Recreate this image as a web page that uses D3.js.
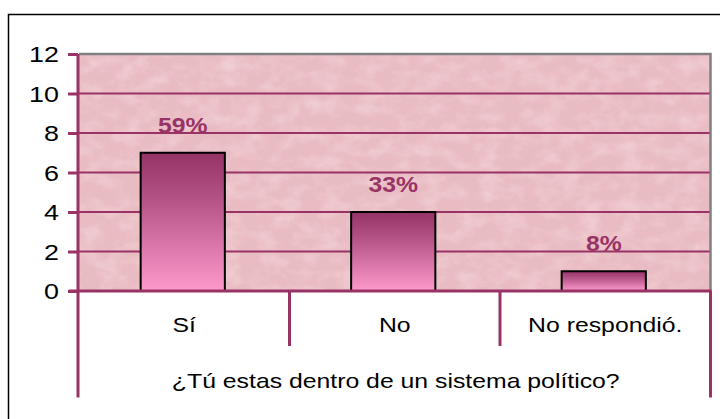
<!DOCTYPE html>
<html>
<head>
<meta charset="utf-8">
<script src="https://cdn.jsdelivr.net/npm/d3@7"></script>
<style>
  body { margin: 0; background: #fff; }
  svg { display: block; font-family: Arial, "Liberation Sans", sans-serif; }
</style>
</head>
<body>
<div id="chart"></div>
<script>
// chart data
const categories = ["Sí", "No", "No respondió."];
const counts = [7, 4, 1];
const pctLabels = ["59%", "33%", "8%"];
const yTicks = [0, 2, 4, 6, 8, 10, 12];
const axisTitle = "¿Tú estas dentro de un sistema político?";

const width = 720, height = 419;
const margin = {top: 54, right: 9.5, bottom: 128, left: 79};
const purple = "#993366";
const stretch = 1.24; // the original text is a bit wider than plain Arial

const svg = d3.select("#chart")
  .append("svg")
  .attr("width", width)
  .attr("height", height);

const defs = svg.append("defs");

// marbled pink texture of the plot area
const marble = defs.append("filter")
  .attr("id", "marble")
  .attr("x", 0).attr("y", 0).attr("width", "100%").attr("height", "100%");
marble.append("feTurbulence")
  .attr("type", "fractalNoise")
  .attr("baseFrequency", "0.05 0.07")
  .attr("numOctaves", 4)
  .attr("seed", 11);
marble.append("feColorMatrix")
  .attr("type", "matrix")
  .attr("values", "0 0 0 0 1  0 0 0 0 0.92  0 0 0 0 0.93  1.6 0 0 0 -0.62");

const speck = defs.append("filter")
  .attr("id", "speck")
  .attr("x", 0).attr("y", 0).attr("width", "100%").attr("height", "100%");
speck.append("feTurbulence")
  .attr("type", "fractalNoise")
  .attr("baseFrequency", "0.12")
  .attr("numOctaves", 2)
  .attr("seed", 4);
speck.append("feColorMatrix")
  .attr("type", "matrix")
  .attr("values", "0 0 0 0 0.8  0 0 0 0 0.5  0 0 0 0 0.55  0 1.6 0 0 -0.7");

const grad = defs.append("linearGradient")
  .attr("id", "barGrad")
  .attr("x1", 0).attr("y1", 0).attr("x2", 0).attr("y2", 1);
grad.append("stop").attr("offset", "0%").attr("stop-color", "#963366");
grad.append("stop").attr("offset", "30%").attr("stop-color", "#b04f82");
grad.append("stop").attr("offset", "100%").attr("stop-color", "#ff99cc");

// outer frame (runs off the right and bottom edges)
svg.append("rect")
  .attr("x", 8.5).attr("y", 14.5)
  .attr("width", width).attr("height", height)
  .attr("fill", "#fff")
  .attr("stroke", "#000")
  .attr("stroke-width", 1.5);

const y = d3.scaleLinear()
  .domain([0, 12])
  .range([height - margin.bottom, margin.top]);

const x = d3.scaleBand()
  .domain(categories)
  .range([margin.left, width - margin.right])
  .padding(0);

const plotTop = y(12), plotBottom = y(0);
const plotLeft = margin.left, plotRight = width - margin.right;

// plot background
svg.append("rect")
  .attr("x", plotLeft).attr("y", plotTop)
  .attr("width", plotRight - plotLeft).attr("height", plotBottom - plotTop)
  .attr("fill", "#e9bbc2");
svg.append("rect")
  .attr("x", plotLeft).attr("y", plotTop)
  .attr("width", plotRight - plotLeft).attr("height", plotBottom - plotTop)
  .attr("filter", "url(#marble)")
  .attr("opacity", 0.4);
svg.append("rect")
  .attr("x", plotLeft).attr("y", plotTop)
  .attr("width", plotRight - plotLeft).attr("height", plotBottom - plotTop)
  .attr("filter", "url(#speck)")
  .attr("opacity", 0.15);

// gridlines
svg.append("g")
  .selectAll("line")
  .data(yTicks.filter(t => t > 0 && t < 12))
  .enter()
  .append("line")
    .attr("x1", plotLeft).attr("x2", plotRight)
    .attr("y1", d => y(d)).attr("y2", d => y(d))
    .attr("stroke", purple)
    .attr("stroke-width", 2);

// grey border on top and right of the plot
svg.append("path")
  .attr("d", `M${plotLeft},${plotTop}H${plotRight}V${plotBottom}`)
  .attr("fill", "none")
  .attr("stroke", "#808080")
  .attr("stroke-width", 2.5);

// bars
const bw = x.bandwidth() * 0.4;
svg.append("g")
  .selectAll("rect")
  .data(counts)
  .enter()
  .append("rect")
    .attr("x", (d, i) => x(categories[i]) + x.bandwidth() / 2 - bw / 2 - 1.5)
    .attr("y", d => y(d))
    .attr("width", bw)
    .attr("height", d => y(0) - y(d))
    .attr("fill", "url(#barGrad)")
    .attr("stroke", "#000")
    .attr("stroke-width", 2);

// percentage labels
svg.append("g")
  .selectAll("text")
  .data(counts)
  .enter()
  .append("text")
    .attr("transform", (d, i) =>
      `translate(${x(categories[i]) + x.bandwidth() / 2 - 1.5},${y(d) - 20}) scale(1.1,1)`)
    .attr("text-anchor", "middle")
    .attr("font-size", "22.5px")
    .attr("font-weight", "bold")
    .attr("fill", purple)
    .text((d, i) => pctLabels[i]);

// y axis
const yAxis = svg.append("g")
  .attr("transform", `translate(${plotLeft - 1},0)`)
  .call(d3.axisLeft(y).tickValues(yTicks).tickSize(10).tickSizeOuter(0));
yAxis.select(".domain").remove();
yAxis.selectAll(".tick line")
  .attr("stroke", purple)
  .attr("stroke-width", 3);
yAxis.selectAll(".tick text")
  .attr("x", -19 / 1.25)
  .attr("dy", "0.36em")
  .attr("transform", "scale(1.25,1)")
  .attr("font-size", "21.5px")
  .attr("font-family", "Arial, 'Liberation Sans', sans-serif")
  .attr("fill", "#000");

// axis lines: left runs down through the category table
const catBottom = 346, titleBottom = 397.5;
svg.append("line")
  .attr("x1", plotLeft - 1).attr("x2", plotLeft - 1)
  .attr("y1", plotTop).attr("y2", titleBottom)
  .attr("stroke", purple).attr("stroke-width", 3);
svg.append("line")
  .attr("x1", plotLeft - 10).attr("x2", plotRight + 1)
  .attr("y1", plotBottom).attr("y2", plotBottom)
  .attr("stroke", purple).attr("stroke-width", 3);
svg.append("line")
  .attr("x1", plotRight).attr("x2", plotRight)
  .attr("y1", plotBottom).attr("y2", titleBottom)
  .attr("stroke", purple).attr("stroke-width", 3);

// separators between categories
svg.append("g")
  .selectAll("line")
  .data(categories.slice(1))
  .enter()
  .append("line")
    .attr("x1", d => x(d)).attr("x2", d => x(d))
    .attr("y1", plotBottom).attr("y2", catBottom)
    .attr("stroke", purple)
    .attr("stroke-width", 3);

// category labels
svg.append("g")
  .selectAll("text")
  .data(categories)
  .enter()
  .append("text")
    .attr("transform", d => `translate(${x(d) + x.bandwidth() / 2},332) scale(${stretch},1)`)
    .attr("text-anchor", "middle")
    .attr("font-size", "20px")
    .attr("fill", "#000")
    .text(d => d);

// group title
svg.append("text")
  .attr("transform", `translate(${(plotLeft + plotRight) / 2 + 1},388) scale(${stretch},1)`)
  .attr("text-anchor", "middle")
  .attr("font-size", "20px")
  .attr("fill", "#000")
  .text(axisTitle);
</script>
</body>
</html>
